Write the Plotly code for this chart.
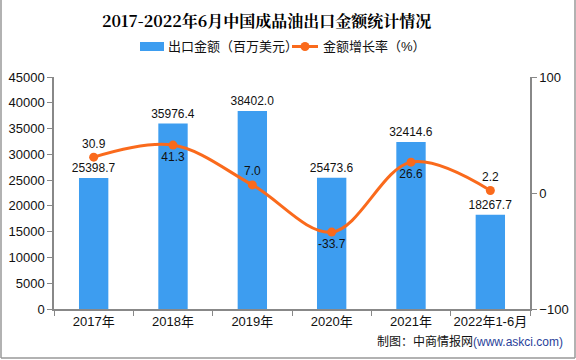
import plotly.graph_objects as go

categories = ["2017年", "2018年", "2019年", "2020年", "2021年", "2022年1-6月"]
export_value = [25398.7, 35976.4, 38402.0, 25473.6, 32414.6, 18267.7]
growth_rate = [30.9, 41.3, 7.0, -33.7, 26.6, 2.2]
growth_label_pos = ["top center", "bottom center", "top center", "bottom center", "bottom center", "top center"]

BAR_COLOR = "#3D9DF0"
LINE_COLOR = "#FA6A1C"
FONT = "Liberation Sans, Noto Sans CJK SC, sans-serif"
AXIS_COLOR = "#888888"

W, H = 576, 360
ML, MR, MT, MB = 54, 46, 77, 51
PW, PH = W - ML - MR, H - MT - MB


def px(x):
    return (x - ML) / PW


def py(y):
    return (H - MB - y) / PH


fig = go.Figure()
fig.add_trace(go.Bar(
    x=categories, y=export_value, name="出口金额（百万美元）",
    marker=dict(color=BAR_COLOR, line=dict(width=0)),
    text=[f"{v:.1f}" for v in export_value], textposition="outside",
    textfont=dict(size=12, color="#111111", family=FONT),
    constraintext="none",
    cliponaxis=False, yaxis="y", width=0.37,
))
fig.add_trace(go.Scatter(
    x=categories, y=growth_rate, name="金额增长率（%）",
    mode="lines+markers+text",
    line=dict(color=LINE_COLOR, width=3, shape="spline", smoothing=1.0),
    marker=dict(color=LINE_COLOR, size=9),
    text=[f"{v:.1f}" for v in growth_rate], textposition=growth_label_pos,
    textfont=dict(size=12, color="#111111", family=FONT),
    cliponaxis=False, yaxis="y2",
))

shapes = []
annotations = []
# manual legend
shapes.append(dict(type="rect", xref="paper", yref="paper",
                   x0=px(140), x1=px(164), y0=py(51), y1=py(42),
                   fillcolor=BAR_COLOR, line=dict(width=0)))
annotations.append(dict(xref="paper", yref="paper", x=px(166), y=py(46.5),
                        xanchor="left", yanchor="middle", showarrow=False,
                        text="出口金额（百万美元）", font=dict(size=13, color="#111111", family=FONT)))
shapes.append(dict(type="line", xref="paper", yref="paper",
                   x0=px(292), x1=px(318), y0=py(46.5), y1=py(46.5),
                   line=dict(color=LINE_COLOR, width=3)))
shapes.append(dict(type="circle", xref="paper", yref="paper",
                   x0=px(300.5), x1=px(309.5), y0=py(51), y1=py(42),
                   fillcolor=LINE_COLOR, line=dict(width=0)))
annotations.append(dict(xref="paper", yref="paper", x=px(321), y=py(46.5),
                        xanchor="left", yanchor="middle", showarrow=False,
                        text="金额增长率（%）", font=dict(size=13, color="#111111", family=FONT)))
# title
annotations.append(dict(xref="paper", yref="paper", x=px(266), y=py(21),
                        xanchor="center", yanchor="middle", showarrow=False,
                        text="<b>2017-2022年6月中国成品油出口金额统计情况</b>",
                        font=dict(size=16, color="#000000", family="Noto Serif CJK SC, Noto Sans CJK SC, serif")))
# source
annotations.append(dict(xref="paper", yref="paper", x=px(565), y=py(341),
                        xanchor="right", yanchor="middle", showarrow=False,
                        text="制图：中商情报网<span style='color:#2A3F9A'>(www.askci.com)</span>",
                        font=dict(size=12, color="#111111", family=FONT)))
# outer frame (left, right, bottom)
for (x0, y0, x1, y1) in [(1, 0, 1, 358), (575, 0, 575, 358), (1, 358, 575, 358)]:
    shapes.append(dict(type="line", xref="paper", yref="paper",
                       x0=px(x0), x1=px(x1), y0=py(y0), y1=py(y1),
                       line=dict(color="#999999", width=1.5)))

fig.update_layout(
    width=W, height=H,
    margin=dict(l=ML, r=MR, t=MT, b=MB, autoexpand=False),
    paper_bgcolor="white", plot_bgcolor="white",
    showlegend=False,
    font=dict(family=FONT, size=12, color="#111111"),
    xaxis=dict(type="category", showline=True, linecolor=AXIS_COLOR, linewidth=1.5,
               ticks="outside", tickson="boundaries", ticklen=5, tickcolor=AXIS_COLOR,
               showgrid=False, tickfont=dict(size=13, color="#111111"), zeroline=False,
               tickangle=0, automargin=False),
    yaxis=dict(range=[0, 45000], dtick=5000, showline=True, linecolor=AXIS_COLOR, linewidth=1.5,
               ticks="outside", ticklen=5, tickcolor=AXIS_COLOR, showgrid=False, zeroline=False,
               tickformat="d", automargin=False,
               tickfont=dict(size=13, color="#111111")),
    yaxis2=dict(range=[-100, 100], dtick=100, overlaying="y", side="right",
                showline=True, linecolor=AXIS_COLOR, linewidth=1.5,
                ticks="outside", ticklen=5, tickcolor=AXIS_COLOR, showgrid=False, zeroline=False,
                automargin=False,
                tickfont=dict(size=13, color="#111111")),
    shapes=shapes, annotations=annotations,
)

fig.write_html("out.html", config={"displayModeBar": False},
               post_script="document.body.style.margin='0';document.body.style.overflow='hidden';")
